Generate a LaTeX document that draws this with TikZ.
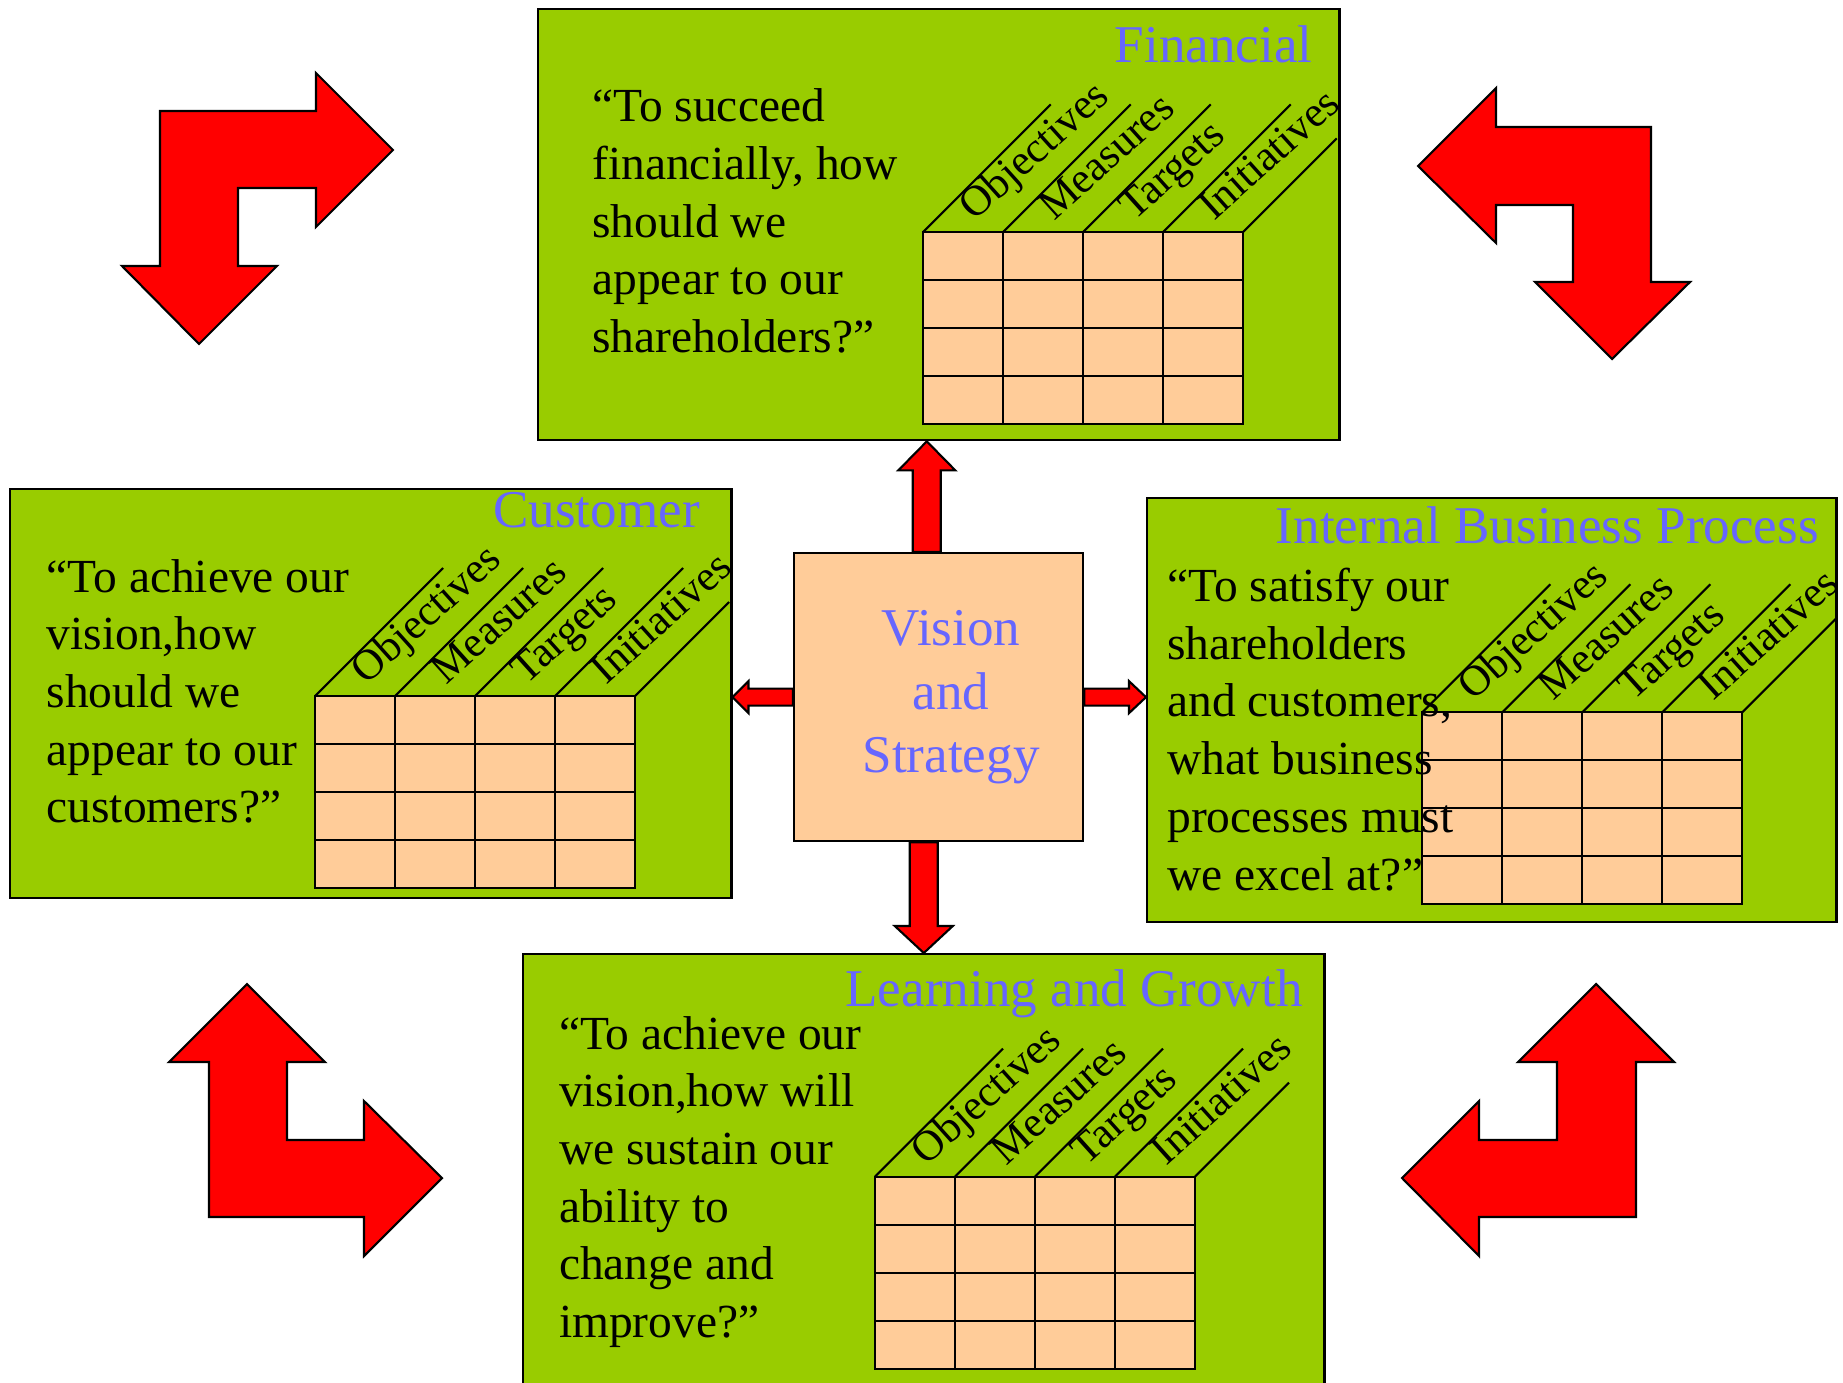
\documentclass[tikz,border=0pt]{standalone}
\usepackage{fontspec}
\setmainfont{Liberation Serif}
\usetikzlibrary{calc}

\definecolor{panegreen}{RGB}{153,204,0}
\definecolor{peach}{RGB}{255,204,153}
\definecolor{titleblue}{RGB}{102,102,255}

\begin{document}
\begin{tikzpicture}
                [x=0.01cm, y=-0.01cm,
                pane/.style={
                    rectangle,
                    draw,
                    line width=0.6pt,
                    fill=panegreen,
                    inner sep=0pt,
                    anchor=north west
                },
                hub/.style={pane, fill=peach},
                cell/.style={draw, line width=0.6pt, fill=peach},
                rule/.style={draw, line width=0.6pt},
                heading/.style={
                    text=titleblue,
                    font=\fontsize{15.1}{18.1}\selectfont,
                    inner sep=0pt
                },
                question/.style={
                    font=\fontsize{13.5}{16.4}\selectfont,
                    align=left,
                    inner sep=0pt,
                    anchor=base west
                },
                colhead/.style={
                    font=\fontsize{12.2}{14}\selectfont,
                    inner sep=0pt,
                    anchor=base west,
                    rotate=42
                },
                bigarrow/.style={
                    draw, line width=0.6pt, fill=red, line join=miter
                }
                ]

                \useasboundingbox (0,0) rectangle (1843,1382);

                % Perspective boxes
                \node[pane, minimum width=8.01cm, minimum height=4.31cm] (fin) at (537,8) {};
                \node[pane, minimum width=7.21cm, minimum height=4.09cm] (cust) at (9,488) {};
                \node[pane, minimum width=6.89cm, minimum height=4.24cm] (ibp) at (1146,497) {};
                \node[pane, minimum width=8.01cm, minimum height=4.45cm] (learn) at (522,953) {};
                \node[hub, minimum width=2.89cm, minimum height=2.88cm] (vis) at (793,552) {};

                % Tables with slanted column heads
                \foreach \tx/\ty/\nm in {922.7/232.3/fin, 315/696/cust, 1422.3/712.3/ibp, 875/1176.7/learn}{
                    \path[cell] (\tx,\ty) rectangle ++(320,192);
                    \foreach \k in {1,2,3}{
                        \draw[rule] (\tx+80*\k,\ty) -- ++(0,192);
                        \draw[rule] (\tx,\ty+48*\k) -- ++(320,0);
                    }
                    \draw[rule] (\tx+320,\ty) -- ++(94,-94);
                    \foreach \lbl [count=\i from 0] in {Objectives, Measures, Targets, Initiatives}{
                        \draw[rule] (\tx+80*\i,\ty) -- ++(128,-128);
                        \node[colhead] (\nm-col\i) at (\tx+80*\i+51,\ty-10) {\lbl};
                    }
                }

                % Questions (anchored on the baseline of their last line)
                \node[question] (finQ) at (591.7,352.6) {“To succeed\\financially, how\\should we\\appear to our\\shareholders?”};
                \node[question] (custQ) at (46,822.7) {“To achieve our\\vision,how\\should we\\appear to our\\customers?”};
                \node[question] (ibpQ) at (1166.7,890) {“To satisfy our\\shareholders\\and customers,\\what business\\processes must\\we excel at?”};
                \node[question] (learnQ) at (558.3,1337.6) {“To achieve our\\vision,how will\\we sustain our\\ability to\\change and\\improve?”};

                % Titles
                \node[heading, anchor=base east] (finT) at (1313,63) {Financial};
                \node[heading, anchor=base east] (custT) at (700.5,527) {Customer};
                \node[heading, anchor=base east] (ibpT) at (1819.4,543.7) {Internal Business Process};
                \node[heading, anchor=base east] (learnT) at (1303.3,1006.7) {Learning and Growth};
                \node[heading, align=center] (visT) at ($(vis.center)+(12.5,0)$) {Vision\\and\\Strategy};

                % Arrows out of the hub
                \coordinate (upTip) at ($(fin.south)+(-12,0)$);
                \coordinate (dnTip) at (learn.north);
                \coordinate (ltTip) at (cust.east |- vis.west);
                \coordinate (rtTip) at (ibp.west |- vis.east);
                \draw[bigarrow] ($(upTip |- vis.north)+(-14,0)$) -- ($(upTip)+(-14,29)$) -- ($(upTip)+(-28.5,29)$)
                    -- (upTip) -- ($(upTip)+(28.5,29)$) -- ($(upTip)+(14,29)$) -- ($(upTip |- vis.north)+(14,0)$) -- cycle;
                \draw[bigarrow] ($(dnTip |- vis.south)+(-14,0)$) -- ($(dnTip)+(-14,-27)$) -- ($(dnTip)+(-29,-27)$)
                    -- (dnTip) -- ($(dnTip)+(29,-27)$) -- ($(dnTip)+(14,-27)$) -- ($(dnTip |- vis.south)+(14,0)$) -- cycle;
                \draw[bigarrow] ($(vis.west)+(0,-8.5)$) -- ($(ltTip)+(16,-8.5)$) -- ($(ltTip)+(16,-16)$)
                    -- (ltTip) -- ($(ltTip)+(16,16)$) -- ($(ltTip)+(16,8.5)$) -- ($(vis.west)+(0,8.5)$) -- cycle;
                \draw[bigarrow] ($(vis.east)+(0,-8.5)$) -- ($(rtTip)+(-17,-8.5)$) -- ($(rtTip)+(-17,-16)$)
                    -- (rtTip) -- ($(rtTip)+(-17,16)$) -- ($(rtTip)+(-17,8.5)$) -- ($(vis.east)+(0,8.5)$) -- cycle;

                % Corner cycle arrows
                \draw[bigarrow] (160,111) -- (316,111) -- (316,73) -- (393,150) -- (316,227) -- (316,188) -- (238,188)
                    -- (238,266) -- (277,266) -- (199,344) -- (122,266) -- (160,266) -- cycle;
                \draw[bigarrow] (1651,127) -- (1496,127) -- (1496,88) -- (1418,166) -- (1496,243) -- (1496,205) -- (1573,205)
                    -- (1573,282) -- (1535,282) -- (1612,359) -- (1690,282) -- (1651,282) -- cycle;
                \draw[bigarrow] (209,1217) -- (364,1217) -- (364,1256) -- (442,1178) -- (364,1101) -- (364,1140) -- (287,1140)
                    -- (287,1062) -- (325,1062) -- (247,984) -- (169,1062) -- (209,1062) -- cycle;
                \draw[bigarrow] (1636,1217) -- (1479,1217) -- (1479,1256) -- (1402,1178) -- (1479,1101) -- (1479,1140) -- (1557,1140)
                    -- (1557,1062) -- (1518,1062) -- (1596,984) -- (1674,1062) -- (1636,1062) -- cycle;
\end{tikzpicture}
\end{document}
